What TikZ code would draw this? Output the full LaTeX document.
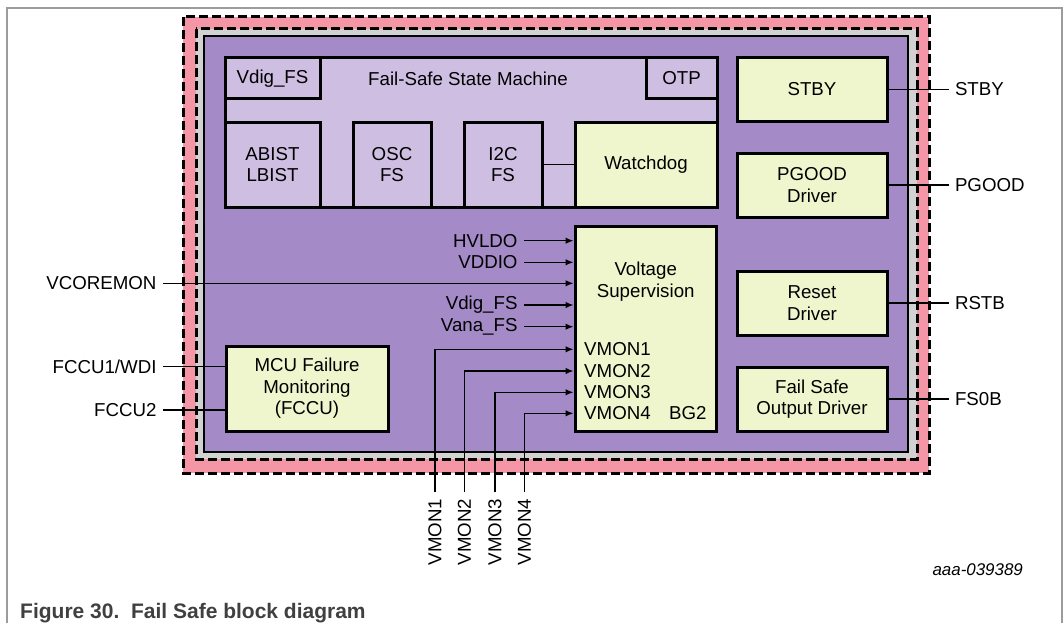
\documentclass[tikz,border=0pt]{standalone}
\usepackage{fontspec}
\setmainfont{Liberation Sans}
\usetikzlibrary{arrows.meta,positioning}
\definecolor{fspink}{HTML}{F596A6}
\definecolor{fsgray}{HTML}{D2D2D2}
\definecolor{fspurple}{HTML}{A48AC6}
\definecolor{fslilac}{HTML}{CEBEE2}
\definecolor{fsyellow}{HTML}{EFF6CE}
\definecolor{fsframe}{HTML}{9C9C9C}
\definecolor{fscaption}{HTML}{404040}

\begin{document}
\begin{tikzpicture}[x=1pt,y=-1pt,>={Latex[length=8pt,width=6.5pt]},
  font=\fontsize{18.7}{21.5}\selectfont,
  blk/.style={draw,line width=3pt,fill=fsyellow,align=center,inner sep=0pt},
  fsbox/.style={blk,fill=fslilac},
  sig/.style={inner sep=0pt,outer sep=6.5pt},
  wire/.style={line width=1.3pt},
  border/.style={line width=3pt,dash pattern=on 9pt off 4pt}]
  \useasboundingbox (0,0) rectangle (1064,623);
  \draw[fsframe,line width=1.5pt] (7,623) -- (7,8) -- (1062,8) -- (1062,623);
  % package border
  \fill[fspink] (183,17) rectangle (929,473);
  \fill[fsgray] (196,29) rectangle (917,459);
  \draw[border] (183,17) rectangle (929,473);
  \draw[border] (196,29) rectangle (917,459);
  \draw[line width=2.5pt,fill=fspurple] (204,36) rectangle (908,452);
  % fail-safe state machine
  \node[fsbox,minimum width=492pt,minimum height=149pt] (fsm) at (471,132.5) {};
  \node (fsmtxt) at (468,79) {Fail-Safe State Machine};
  \node[fsbox,minimum width=95pt,minimum height=41pt] (vdig) at (272.5,78.5) {Vdig\_FS};
  \node[fsbox,minimum width=71pt,minimum height=41pt] (otp) at (681.5,78.5) {OTP};
  \node[fsbox,minimum width=95pt,minimum height=85pt] (abist) at (272.5,164.5) {ABIST\\LBIST};
  \node[fsbox,minimum width=78pt,minimum height=85pt] (osc) at (392,164.5) {OSC\\FS};
  \node[fsbox,minimum width=78pt,minimum height=85pt] (i2c) at (503,164.5) {I2C\\FS};
  \node[blk,minimum width=142pt,minimum height=85pt] (wdog) at (646,164.5) {Watchdog};
  \draw[wire] (i2c) -- (wdog);
  % output drivers
  \node[blk,minimum width=150pt,minimum height=63pt] (stby) at (812,89.5) {STBY};
  \node[blk,minimum width=150pt,minimum height=64pt] (pgood) at (812,185) {PGOOD\\Driver};
  \node[blk,minimum width=150pt,minimum height=64pt] (reset) at (812,303) {Reset\\Driver};
  \node[blk,minimum width=150pt,minimum height=64pt] (fsob) at (812,399) {Fail Safe\\Output Driver};
  \foreach \b/\t in {stby/STBY,pgood/PGOOD,reset/RSTB,fsob/FS0B}{
    \node[sig,right=60pt of \b] (\b out) {\t};
    \draw[wire] (\b) -- (\b out);
  }
  % voltage supervision
  \node[blk,minimum width=141pt,minimum height=205pt] (vsup) at (645.5,328.5) {};
  \node[align=center,inner sep=0pt] (vsuptxt) at (645.7,281.5) {Voltage\\Supervision};
  \node[anchor=east,inner sep=0pt] (bg2) at (706.7,413.3) {BG2};
  \foreach \n/\t/\y in {hvldo/HVLDO/240.7,vddio/VDDIO/262.3,vdigin/Vdig\_FS/305,vana/Vana\_FS/326.7}{
    \node[sig,anchor=east] (\n) at (524,\y) {\t};
    \draw[wire,->] (\n.east) -- (\n.east -| vsup.west);
  }
  \node[sig,anchor=east] (vcore) at (163,283.3) {VCOREMON};
  \draw[wire,->] (vcore.east) -- (vcore.east -| vsup.west);
  \foreach \i/\x/\y in {1/435/349.3,2/464.5/371,3/495/392.3,4/524.5/413.3}{
    \node[sig,rotate=90,anchor=east] (vmon\i) at (\x,492.3) {VMON\i};
    \node[anchor=west,inner sep=0pt] (vin\i) at (584,\y) {VMON\i};
    \draw[wire,->] (vmon\i.east) |- (vsup.west |- vin\i);
  }
  % MCU failure monitoring
  \node[blk,minimum width=162pt,minimum height=85pt] (mcu) at (307,388.5) {MCU Failure\\Monitoring\\(FCCU)};
  \node[sig,anchor=east] (fccu1) at (163,366.7) {FCCU1/WDI};
  \node[sig,anchor=east] (fccu2) at (163,410) {FCCU2};
  \draw[wire] (fccu1.east) -- (fccu1.east -| mcu.west);
  \draw[wire] (fccu2.east) -- (fccu2.east -| mcu.west);
  % caption
  \node[anchor=east,inner sep=0pt,font=\fontsize{16.9}{20}\selectfont\itshape] (docid) at (1023,570) {aaa-039389};
  \node[anchor=base west,inner sep=0pt,font=\fontsize{21}{25}\selectfont\bfseries,text=fscaption] (caption) at (20,618.3) {Figure 30.\ \ Fail Safe block diagram};
\end{tikzpicture}
\end{document}
